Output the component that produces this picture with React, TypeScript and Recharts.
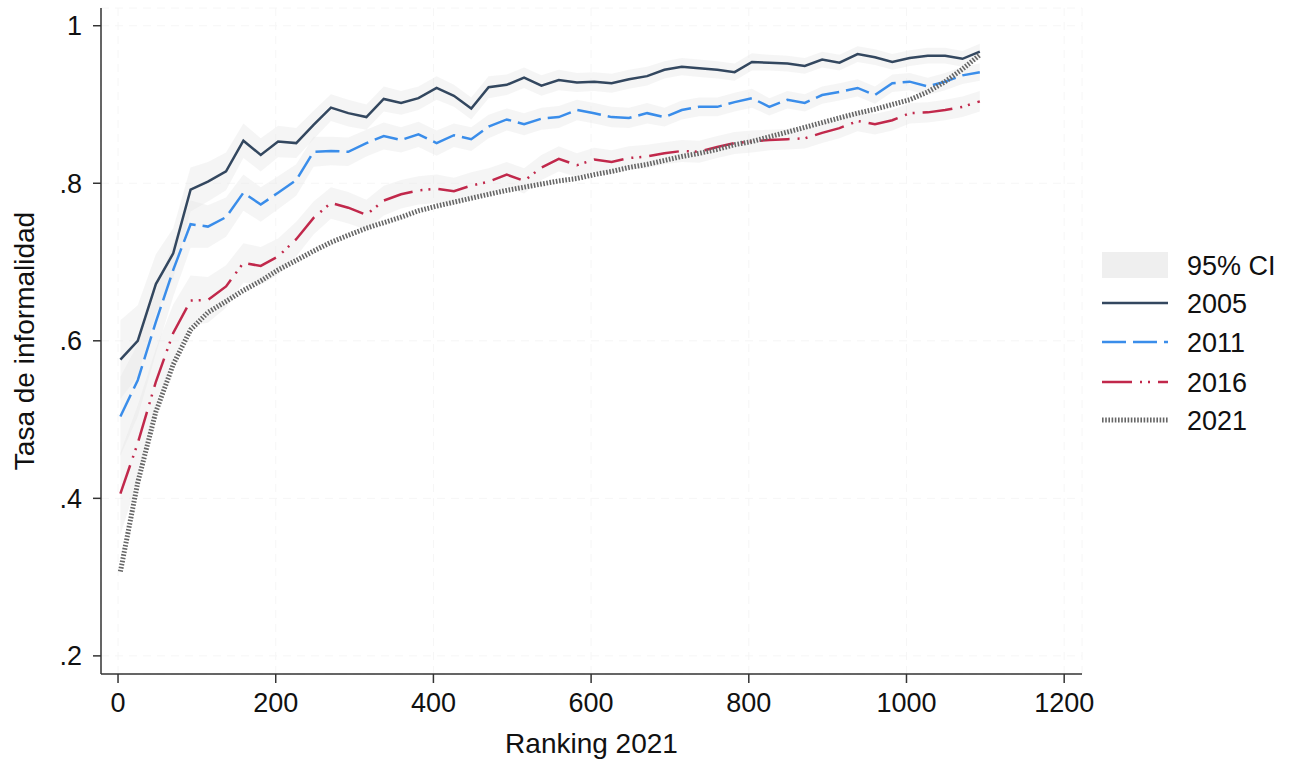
import * as React from "react";
import {
  ComposedChart,
  Area,
  Line,
  XAxis,
  YAxis,
  CartesianGrid,
  Legend,
  Label,
} from "recharts";

// Ranking 2021 (eje X) — un punto cada ~22 posiciones
const rankings = [
  3, 25, 48, 70, 92, 114, 137, 159, 181, 203,
  226, 248, 270, 292, 315, 337, 359, 381, 404, 426,
  448, 470, 493, 515, 537, 559, 582, 604, 626, 648,
  671, 693, 715, 737, 760, 782, 804, 826, 849, 871,
  893, 915, 938, 960, 982, 1004, 1027, 1049, 1071, 1093,
];

const tasa2005 = [
  0.576, 0.600, 0.672, 0.711, 0.792, 0.802, 0.815, 0.854, 0.836, 0.853,
  0.851, 0.874, 0.896, 0.889, 0.884, 0.907, 0.902, 0.908, 0.921, 0.911,
  0.895, 0.922, 0.925, 0.934, 0.924, 0.931, 0.928, 0.929, 0.927, 0.932,
  0.936, 0.944, 0.948, 0.946, 0.944, 0.941, 0.954, 0.953, 0.952, 0.949,
  0.957, 0.953, 0.964, 0.960, 0.954, 0.959, 0.962, 0.962, 0.958, 0.967,
];

const tasa2011 = [
  0.504, 0.550, 0.624, 0.690, 0.748, 0.745, 0.757, 0.788, 0.773, 0.788,
  0.804, 0.840, 0.841, 0.840, 0.851, 0.860, 0.855, 0.862, 0.851, 0.861,
  0.856, 0.872, 0.881, 0.875, 0.882, 0.884, 0.893, 0.889, 0.884, 0.883,
  0.889, 0.884, 0.893, 0.897, 0.897, 0.903, 0.908, 0.897, 0.906, 0.902,
  0.912, 0.916, 0.921, 0.912, 0.927, 0.929, 0.923, 0.929, 0.937, 0.941,
];

const tasa2016 = [
  0.406, 0.470, 0.548, 0.610, 0.651, 0.652, 0.669, 0.699, 0.695, 0.707,
  0.729, 0.756, 0.775, 0.769, 0.760, 0.778, 0.786, 0.791, 0.793, 0.790,
  0.797, 0.802, 0.811, 0.803, 0.820, 0.831, 0.823, 0.830, 0.827, 0.832,
  0.834, 0.838, 0.841, 0.840, 0.846, 0.851, 0.853, 0.855, 0.856, 0.857,
  0.864, 0.870, 0.879, 0.875, 0.880, 0.889, 0.890, 0.893, 0.897, 0.904,
];

const tasa2021 = [
  0.307, 0.420, 0.510, 0.570, 0.614, 0.636, 0.650, 0.664, 0.676, 0.690,
  0.702, 0.714, 0.725, 0.734, 0.743, 0.750, 0.757, 0.765, 0.771, 0.776,
  0.781, 0.786, 0.791, 0.795, 0.799, 0.803, 0.806, 0.811, 0.815, 0.820,
  0.824, 0.829, 0.834, 0.838, 0.843, 0.849, 0.853, 0.859, 0.865, 0.871,
  0.877, 0.883, 0.889, 0.894, 0.900, 0.906, 0.916, 0.929, 0.945, 0.963,
];

// semiancho del IC 95% (leído a ojo, son bandas muy tenues)
const ic2005 = [
  0.050, 0.045, 0.038, 0.032, 0.028, 0.025, 0.024, 0.022, 0.021, 0.020,
  0.019, 0.018, 0.017, 0.017, 0.016, 0.016, 0.015, 0.015, 0.015, 0.014,
  0.014, 0.014, 0.013, 0.013, 0.013, 0.013, 0.012, 0.012, 0.012, 0.012,
  0.012, 0.011, 0.011, 0.011, 0.011, 0.011, 0.011, 0.010, 0.010, 0.010,
  0.010, 0.010, 0.010, 0.010, 0.010, 0.010, 0.010, 0.010, 0.010, 0.010,
];

const ic2011 = [
  0.050, 0.046, 0.040, 0.034, 0.030, 0.027, 0.025, 0.023, 0.022, 0.021,
  0.020, 0.019, 0.018, 0.018, 0.017, 0.017, 0.016, 0.016, 0.016, 0.015,
  0.015, 0.015, 0.014, 0.014, 0.014, 0.014, 0.013, 0.013, 0.013, 0.013,
  0.013, 0.012, 0.012, 0.012, 0.012, 0.012, 0.012, 0.011, 0.011, 0.011,
  0.011, 0.011, 0.011, 0.011, 0.011, 0.011, 0.011, 0.011, 0.011, 0.011,
];

const ic2016 = [
  0.052, 0.048, 0.042, 0.036, 0.032, 0.029, 0.027, 0.025, 0.024, 0.023,
  0.022, 0.021, 0.020, 0.020, 0.019, 0.019, 0.018, 0.018, 0.018, 0.017,
  0.017, 0.017, 0.016, 0.016, 0.016, 0.016, 0.015, 0.015, 0.015, 0.015,
  0.015, 0.014, 0.014, 0.014, 0.014, 0.014, 0.014, 0.013, 0.013, 0.013,
  0.013, 0.013, 0.013, 0.013, 0.013, 0.013, 0.013, 0.013, 0.013, 0.013,
];

const ticksX = [0, 200, 400, 600, 800, 1000, 1200];
const ticksY = [0.2, 0.4, 0.6, 0.8, 1];

const FUENTE = "'Liberation Sans', Arial, Helvetica, sans-serif";
const COR_TEXTO = "#111111";
const COR_EIXO = "#333333";
const COR_IC = "#e4e4e4";

const series = [
  { key: "y2005", name: "2005", color: "#33475f", width: 2.5, dash: undefined as string | undefined },
  { key: "y2011", name: "2011", color: "#3a8dea", width: 2.5, dash: "24 7" },
  { key: "y2016", name: "2016", color: "#c1284b", width: 2.5, dash: "30 8 2 6 2 8" },
  { key: "y2021", name: "2021", color: "#666666", width: 5, dash: "1.6 1.6" },
];

const dados = rankings.map((r, i) => ({
  rank: r,
  y2005: tasa2005[i],
  y2011: tasa2011[i],
  y2016: tasa2016[i],
  y2021: tasa2021[i],
  ic2005: [tasa2005[i] - ic2005[i], tasa2005[i] + ic2005[i]],
  ic2011: [tasa2011[i] - ic2011[i], tasa2011[i] + ic2011[i]],
  ic2016: [tasa2016[i] - ic2016[i], tasa2016[i] + ic2016[i]],
}));

function formatoY(v: number) {
  if (v === 1) return "1";
  return String(v).replace(/^0/, "");
}

function LegendaStata() {
  const filas = [25, 63, 102, 142, 180];
  return (
    <svg width={190} height={205} style={{ overflow: "visible" }}>
      <rect x={2} y={filas[0] - 13} width={66} height={26} fill={COR_IC} opacity={0.6} />
      <text x={87} y={filas[0]} dy="0.36em" fontSize={27} fontFamily={FUENTE} fill={COR_TEXTO}>
        95% CI
      </text>
      {series.map((s, i) => (
        <g key={s.key}>
          <line
            x1={2}
            x2={68}
            y1={filas[i + 1]}
            y2={filas[i + 1]}
            stroke={s.color}
            strokeWidth={s.width}
            strokeDasharray={s.dash}
          />
          <text x={87} y={filas[i + 1]} dy="0.36em" fontSize={27} fontFamily={FUENTE} fill={COR_TEXTO}>
            {s.name}
          </text>
        </g>
      ))}
    </svg>
  );
}

export default function App() {
  return (
    <div style={{ position: "absolute", left: 0, top: 0, width: 1296, height: 760, background: "#ffffff" }}>
      <ComposedChart
        width={1296}
        height={760}
        data={dados}
        margin={{ top: 8, right: 214, bottom: 0, left: 0 }}
      >
        <CartesianGrid stroke="#f6f6f6" strokeDasharray="8 6" />
        <XAxis
          dataKey="rank"
          type="number"
          domain={[-21.6, 1222.6]}
          ticks={ticksX}
          allowDataOverflow
          height={86}
          tickSize={9}
          tickMargin={10}
          tick={{ fontSize: 27, fill: COR_TEXTO, fontFamily: FUENTE }}
          axisLine={{ stroke: COR_EIXO, strokeWidth: 1.5 }}
          tickLine={{ stroke: COR_EIXO, strokeWidth: 1.5 }}
        >
          <Label
            content={({ viewBox }: any) => (
              <text
                x={viewBox.x + viewBox.width / 2}
                y={753}
                textAnchor="middle"
                fontSize={28}
                fontFamily={FUENTE}
                fill={COR_TEXTO}
              >
                Ranking 2021
              </text>
            )}
          />
        </XAxis>
        <YAxis
          type="number"
          domain={[0.177, 1.0225]}
          ticks={ticksY}
          allowDataOverflow
          width={101}
          tickSize={8}
          tickMargin={11}
          tickFormatter={formatoY}
          tick={{ fontSize: 27, fill: COR_TEXTO, fontFamily: FUENTE }}
          axisLine={{ stroke: COR_EIXO, strokeWidth: 1.5 }}
          tickLine={{ stroke: COR_EIXO, strokeWidth: 1.5 }}
        >
          <Label
            content={({ viewBox }: any) => (
              <text
                x={34}
                y={viewBox.y + viewBox.height / 2}
                transform={`rotate(-90 34 ${viewBox.y + viewBox.height / 2})`}
                textAnchor="middle"
                fontSize={28}
                fontFamily={FUENTE}
                fill={COR_TEXTO}
              >
                Tasa de informalidad
              </text>
            )}
          />
        </YAxis>
        <Legend
          layout="vertical"
          align="center"
          verticalAlign="middle"
          content={() => <LegendaStata />}
          wrapperStyle={{ left: 1100, top: 240, width: 190, height: 205 }}
        />
        <Area type="linear" dataKey="ic2005" stroke="none" fill={COR_IC} fillOpacity={0.38} isAnimationActive={false} />
        <Area type="linear" dataKey="ic2011" stroke="none" fill={COR_IC} fillOpacity={0.38} isAnimationActive={false} />
        <Area type="linear" dataKey="ic2016" stroke="none" fill={COR_IC} fillOpacity={0.38} isAnimationActive={false} />
        {series.map((s) => (
          <Line
            key={s.key}
            type="linear"
            dataKey={s.key}
            name={s.name}
            stroke={s.color}
            strokeWidth={s.width}
            strokeDasharray={s.dash}
            dot={false}
            activeDot={false}
            isAnimationActive={false}
          />
        ))}
      </ComposedChart>
    </div>
  );
}
